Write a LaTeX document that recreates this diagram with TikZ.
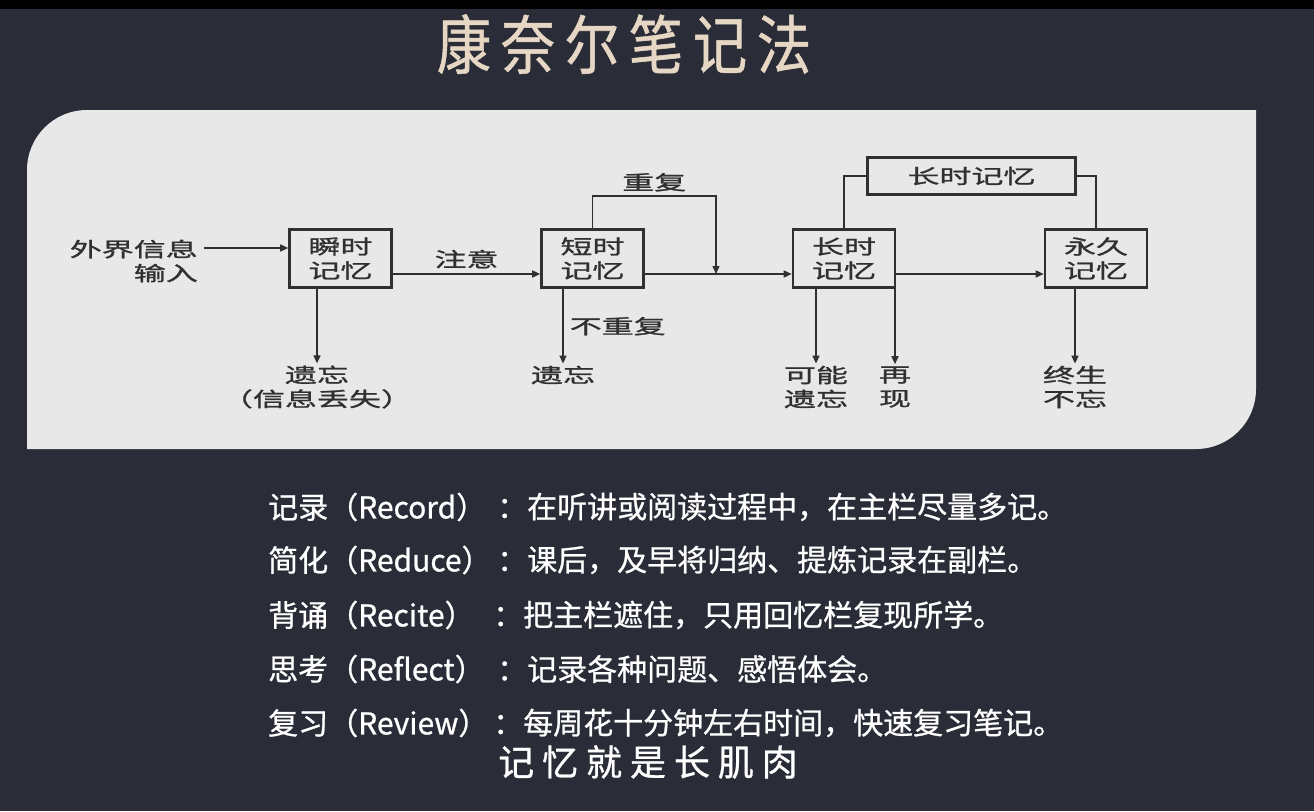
\documentclass[tikz,border=0pt]{standalone}
\usepackage{fontspec}
\usepackage{xcolor}
\usepackage{tikz}
\usetikzlibrary{arrows.meta,positioning,calc}
\setmainfont{Noto Sans CJK SC}
\newfontfamily\notefont[FakeBold=0.8]{Noto Sans CJK SC}
\newfontfamily\diagfont[FakeStretch=1.6,FakeBold=1.2]{Noto Sans CJK SC}
\newfontfamily\titlefont[FakeStretch=0.85,LetterSpace=15,FakeBold=0.8]{Noto Sans CJK SC}
\newfontfamily\mottofont[LetterSpace=22,FakeBold=0.8]{Noto Sans CJK SC}
\definecolor{slideBg}{HTML}{2A2C37}
\definecolor{panelGrey}{HTML}{E8E8E8}
\definecolor{titleBeige}{HTML}{E6D6C4}
\definecolor{inkGrey}{HTML}{303030}

\begin{document}
\begin{tikzpicture}[
  x=1pt,
  y=-1pt,
  memory/.style={
    rectangle,
    draw=inkGrey,
    line width=2.6pt,
    fill=panelGrey,
    minimum width=102pt,
    minimum height=58pt,
    inner sep=0pt,
    align=center,
    text=inkGrey,
    font=\diagfont\fontsize{20}{24}\selectfont
  },
  widebox/.style={memory,minimum width=208pt,minimum height=37pt},
  label/.style={align=center,text=inkGrey,inner sep=2pt,font=\diagfont\fontsize{20}{24}\selectfont},
  flow/.style={-{Triangle[length=8pt,width=7pt]},draw=inkGrey,line width=1.5pt},
  link/.style={draw=inkGrey,line width=1.5pt},
  note/.style={anchor=west,inner sep=0pt,text=white,font=\notefont\fontsize{30}{34}\selectfont}
]

% Slide background and panel.
\fill[slideBg] (0,0) rectangle (1314,811);
\fill[black] (0,0) rectangle (1314,9);
\fill[panelGrey] (27,449) -- (27,170) arc[start angle=180,end angle=270,radius=60]
  -- (1256,110) -- (1256,389) arc[start angle=0,end angle=90,radius=60] -- cycle;

\node[text=titleBeige,font=\titlefont\fontsize{64}{70}\selectfont] (title) at (624,44) {康奈尔笔记法};

% Memory stages.
\coordinate (yin) at (0,248);
\coordinate (yflow) at (0,274);
\node[label,align=right,anchor=east,inner sep=6pt] (input) at (204,261) {外界信息\\输入};
\node[memory] (sensory) at (340.5,258.5) {瞬时\\记忆};
\node[memory] (short) at (592.5,258.5) {短时\\记忆};
\node[memory] (long) at (844,258.5) {长时\\记忆};
\node[memory] (perm) at (1096,258.5) {永久\\记忆};
\node[widebox] (longbar) at (971.5,176) {长时记忆};

% Outcomes.
\node[label] (lost) at (317,387) {遗忘\\（信息丢失）};
\node[label] (forget) at (563,375) {遗忘};
\node[label] (maybe) at (816,387) {可能\\遗忘};
\node[label] (recall) at (895,387) {再\\现};
\node[label] (never) at (1075,387) {终生\\不忘};
\coordinate (join) at (716,274);

% Connectors.
\draw[flow] (input.east |- yin) -- (sensory.west |- yin);
\draw[flow] (sensory.east |- yflow) -- node[label,above=3pt] {注意} (short.west |- yflow);
\draw[flow] (short.east |- yflow) -- (long.west |- yflow);
\draw[flow] (short.north) -- ++(0,-32) -| node[label,pos=0.25,above=2pt] {重复} (join);
\draw[flow] (long.east |- yflow) -- (perm.west |- yflow);
\draw[link] (long.north) |- (longbar.west);
\draw[link] (longbar.east) -| (perm.north);
\draw[flow] (sensory.south -| lost) -- (lost.north);
\draw[flow] (short.south -| forget) -- node[label,right=4pt] {不重复} (forget.north);
\draw[flow] (long.south -| maybe) -- (maybe.north);
\draw[flow] (long.south -| recall) -- (recall.north);
\draw[flow] (perm.south -| never) -- (never.north);

% Five steps.
\node[note] (recordHead) at (268,507) {记录（Record）};
\node[note] (recordBody) at (497,507) {：在听讲或阅读过程中，在主栏尽量多记。};
\node[note] (reduceHead) at (268,560) {简化（Reduce）};
\node[note] (reduceBody) at (497,560) {：课后，及早将归纳、提炼记录在副栏。};
\node[note] (reciteHead) at (268,615) {背诵（Recite）};
\node[note] (reciteBody) at (493,615) {：把主栏遮住，只用回忆栏复现所学。};
\node[note] (reflectHead) at (268,669) {思考（Reflect）};
\node[note] (reflectBody) at (497,669) {：记录各种问题、感悟体会。};
\node[note] (reviewHead) at (268,723) {复习（Review）};
\node[note] (reviewBody) at (493,723) {：每周花十分钟左右时间，快速复习笔记。};

\node[text=white,font=\mottofont\fontsize{36}{40}\selectfont] (motto) at (648,762) {记忆就是长肌肉};

\end{tikzpicture}
\end{document}
